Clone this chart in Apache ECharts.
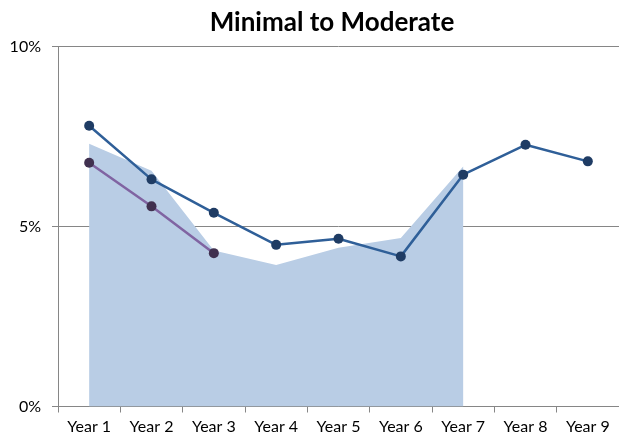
<!DOCTYPE html>
<html>
<head>
<meta charset="utf-8">
<script src="https://cdn.jsdelivr.net/npm/echarts@6/dist/echarts.min.js"></script>
<style>
html,body{margin:0;padding:0;background:#fff;}
#chart{width:619px;height:442px;}
</style>
</head>
<body>
<div id="chart"></div>
<script>
var categories = ["Year 1","Year 2","Year 3","Year 4","Year 5","Year 6","Year 7","Year 8","Year 9"];
var areaValues = [7.30, 6.55, 4.33, 3.93, 4.41, 4.68, 6.67];
var blueLineValues = [7.80, 6.31, 5.38, 4.49, 4.66, 4.17, 6.44, 7.27, 6.81];
var purpleLineValues = [6.77, 5.56, 4.26];
var yTicks = [0, 5, 10];

var chart = echarts.init(document.getElementById('chart'), null, {renderer:'canvas'});
var font = 'Lato, "Open Sans", sans-serif';
chart.setOption({
  animation: false,
  backgroundColor: '#ffffff',
  title: {
    text: 'Minimal to Moderate',
    left: 327,
    top: 5,
    textAlign: 'center',
    textStyle: {fontFamily: font, fontWeight: 'bold', fontSize: 26, color: '#000'}
  },
  grid: {left: 58, top: 46.5, width: 564, height: 360, containLabel: false},
  xAxis: {
    type: 'category',
    data: categories,
    boundaryGap: true,
    axisLine: {show: true, lineStyle: {color: '#868686', width: 1}},
    axisTick: {show: true, length: 6, lineStyle: {color: '#868686'}},
    axisLabel: {fontFamily: font, fontSize: 16, color: '#000', margin: 12},
    splitLine: {show: false}
  },
  yAxis: {
    type: 'value',
    min: yTicks[0],
    max: yTicks[yTicks.length-1],
    interval: 5,
    axisLine: {show: true, lineStyle: {color: '#868686', width: 1}},
    axisTick: {show: true, length: 6, lineStyle: {color: '#868686'}},
    axisLabel: {fontFamily: font, fontSize: 16, color: '#000', margin: 17, formatter: '{value}%'},
    splitLine: {show: true, lineStyle: {color: '#868686', width: 1}}
  },
  series: [
    {
      type: 'line',
      data: areaValues,
      symbol: 'none',
      lineStyle: {width: 0},
      areaStyle: {color: '#B9CDE5', opacity: 1},
      z: 1
    },
    {
      type: 'line',
      data: blueLineValues,
      symbol: 'circle',
      symbolSize: 10,
      lineStyle: {color: '#2F5F98', width: 2.5},
      itemStyle: {color: '#1F3C64'},
      z: 3
    },
    {
      type: 'line',
      data: purpleLineValues,
      symbol: 'circle',
      symbolSize: 10,
      lineStyle: {color: '#8064A2', width: 2.5},
      itemStyle: {color: '#40304F'},
      z: 4
    }
  ]
});
</script>
</body>
</html>
